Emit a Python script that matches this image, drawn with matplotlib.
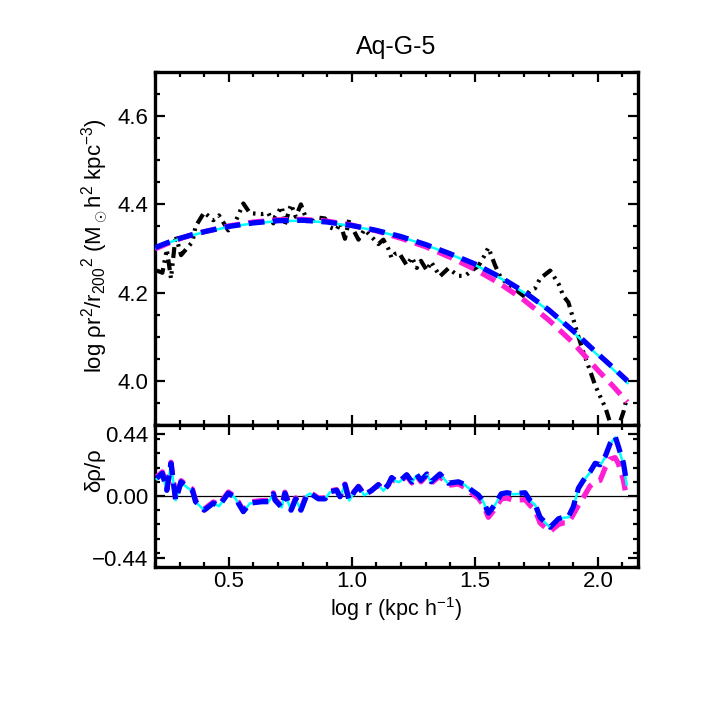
import matplotlib
matplotlib.use("Agg")
import matplotlib.pyplot as plt
from matplotlib.ticker import MultipleLocator, FixedLocator

plt.rcParams['font.family'] = ['Liberation Sans', 'DejaVu Sans']
plt.rcParams['mathtext.fontset'] = 'custom'
plt.rcParams['mathtext.rm'] = 'Liberation Sans'
plt.rcParams['mathtext.it'] = 'Liberation Sans:italic'
plt.rcParams['mathtext.bf'] = 'Liberation Sans:bold'
plt.rcParams['axes.unicode_minus'] = True

# ---------------- data ----------------
title = "Aq-G-5"

# smooth fits (top panel)
x_fit = [0.20, 0.25, 0.30, 0.35, 0.40, 0.50, 0.60, 0.70, 0.80, 0.90, 1.00, 1.10, 1.20,
         1.30, 1.40, 1.50, 1.60, 1.70, 1.80, 1.90, 2.00, 2.06, 2.12]
fit_blue = [4.302, 4.313, 4.323, 4.331, 4.338, 4.350, 4.358, 4.363, 4.364, 4.360, 4.352,
            4.341, 4.327, 4.309, 4.288, 4.265, 4.236, 4.202, 4.161, 4.113, 4.061, 4.031, 4.000]
fit_cyan = [4.301, 4.312, 4.322, 4.330, 4.337, 4.349, 4.357, 4.362, 4.363, 4.359, 4.351,
            4.340, 4.326, 4.308, 4.287, 4.263, 4.234, 4.200, 4.159, 4.110, 4.058, 4.027, 3.995]
fit_magenta = [4.299, 4.311, 4.322, 4.331, 4.338, 4.351, 4.360, 4.365, 4.366, 4.362, 4.353,
               4.340, 4.323, 4.304, 4.280, 4.253, 4.221, 4.183, 4.138, 4.086, 4.024, 3.989, 3.952]

# simulation profile and residuals
x_data = [0.207, 0.230, 0.248, 0.265, 0.284, 0.306, 0.329, 0.352, 0.365, 0.400,
          0.437, 0.460, 0.498, 0.525, 0.559, 0.586, 0.634, 0.661, 0.681, 0.688,
          0.715, 0.728, 0.753, 0.772, 0.793, 0.817, 0.830, 0.864, 0.891, 0.911,
          0.938, 0.952, 0.972, 0.989, 1.010, 1.027, 1.051, 1.081, 1.108, 1.128,
          1.148, 1.162, 1.176, 1.192, 1.223, 1.244, 1.264, 1.281, 1.305, 1.322,
          1.358, 1.392, 1.433, 1.460, 1.487, 1.514, 1.535, 1.555, 1.582, 1.607,
          1.630, 1.657, 1.704, 1.724, 1.745, 1.765, 1.806, 1.840, 1.860, 1.880,
          1.900, 1.921, 1.941, 1.968, 1.989, 2.009, 2.030, 2.050, 2.070, 2.083,
          2.104, 2.117]
rho_data = [4.250, 4.245, 4.298, 4.232, 4.330, 4.285, 4.300, 4.315, 4.350, 4.382,
            4.364, 4.375, 4.341, 4.358, 4.402, 4.380, 4.378, 4.380, 4.357, 4.372,
            4.395, 4.355, 4.400, 4.372, 4.400, 4.364, 4.357, 4.370, 4.368, 4.348,
            4.342, 4.358, 4.322, 4.365, 4.338, 4.320, 4.343, 4.326, 4.310, 4.320,
            4.300, 4.278, 4.288, 4.290, 4.262, 4.280, 4.256, 4.272, 4.250, 4.270,
            4.237, 4.255, 4.238, 4.238, 4.250, 4.260, 4.280, 4.302, 4.262, 4.232,
            4.222, 4.210, 4.190, 4.205, 4.210, 4.232, 4.250, 4.220, 4.192, 4.178,
            4.140, 4.100, 4.065, 4.023, 3.990, 3.965, 3.940, 3.905, 3.880, 3.895,
            3.930, 3.960]
res_blue = [0.125, 0.160, 0.040, 0.230, -0.030, 0.100, 0.066, 0.040, -0.040, -0.100,
            -0.050, -0.070, 0.020, -0.010, -0.110, -0.050, -0.040, -0.040, 0.015, -0.030,
            -0.080, 0.020, -0.100, -0.020, -0.100, 0.007, 0.020, -0.020, -0.020, 0.030,
            0.040, -0.005, 0.080, -0.030, 0.030, 0.066, 0.007, 0.040, 0.080, 0.040,
            0.080, 0.130, 0.110, 0.100, 0.150, 0.100, 0.150, 0.110, 0.155, 0.100,
            0.155, 0.090, 0.100, 0.080, 0.040, 0.007, -0.040, -0.120, -0.060, 0.015,
            0.023, 0.015, 0.023, -0.030, -0.060, -0.150, -0.220, -0.160, -0.150, -0.147,
            -0.076, 0.055, 0.110, 0.170, 0.230, 0.220, 0.280, 0.370, 0.420, 0.350,
            0.230, 0.090]
res_cyan = [0.120, 0.155, 0.035, 0.225, -0.030, 0.095, 0.062, 0.036, -0.042, -0.100,
            -0.052, -0.072, 0.017, -0.012, -0.110, -0.052, -0.042, -0.042, 0.012, -0.032,
            -0.080, 0.017, -0.100, -0.022, -0.100, 0.005, 0.017, -0.022, -0.022, 0.027,
            0.037, -0.007, 0.077, -0.032, 0.027, 0.062, 0.005, 0.037, 0.077, 0.037,
            0.077, 0.126, 0.106, 0.097, 0.146, 0.097, 0.146, 0.107, 0.151, 0.097,
            0.151, 0.087, 0.097, 0.077, 0.037, 0.004, -0.043, -0.123, -0.063, 0.012,
            0.020, 0.012, 0.020, -0.033, -0.063, -0.153, -0.223, -0.163, -0.153, -0.150,
            -0.080, 0.050, 0.105, 0.165, 0.225, 0.215, 0.275, 0.365, 0.412, 0.342,
            0.222, 0.080]
res_magenta = [0.135, 0.170, 0.048, 0.238, -0.022, 0.108, 0.074, 0.048, -0.032, -0.092,
               -0.042, -0.062, 0.028, -0.002, -0.102, -0.042, -0.032, -0.032, 0.022, -0.022,
               -0.072, 0.027, -0.093, -0.013, -0.093, 0.014, 0.026, -0.014, -0.014, 0.035,
               0.045, 0.000, 0.084, -0.026, 0.033, 0.068, 0.008, 0.040, 0.079, 0.038,
               0.077, 0.126, 0.105, 0.094, 0.143, 0.092, 0.141, 0.100, 0.145, 0.090,
               0.140, 0.075, 0.085, 0.060, 0.020, -0.015, -0.065, -0.150, -0.090, -0.020,
               -0.015, -0.030, -0.025, -0.065, -0.100, -0.190, -0.250, -0.200, -0.190, -0.190,
               -0.130, -0.065, -0.010, 0.070, 0.100, 0.110, 0.200, 0.260, 0.270, 0.230,
               0.110, -0.020]

x_ticks = [0.5, 1.0, 1.5, 2.0]
y_ticks_top = [4.0, 4.2, 4.4, 4.6]
y_ticks_bot = [-0.44, 0.0, 0.44]

# ---------------- figure ----------------
W = 709.0
fig = plt.figure(figsize=(7.09, 7.09), dpi=100)
L, R = 155 / W, 638 / W
ax1 = fig.add_axes([L, 1 - 425 / W, R - L, (425 - 72) / W])
ax2 = fig.add_axes([L, 1 - 567 / W, R - L, (567 - 425) / W], sharex=ax1)

dash_black = (0, (2.6, 1.3, 0.6, 1.3, 0.6, 1.3, 0.6, 1.3))
dash_thick = (0, (3.0, 1.6))

# top panel
ax1.plot(x_data, rho_data, color='black', lw=3.0, linestyle=dash_black, zorder=2)
ax1.plot(x_fit, fit_magenta, color='#ff1fd2', lw=3.8, linestyle=dash_thick, zorder=3)
ax1.plot(x_fit, fit_cyan, color='#00ffff', lw=1.8, linestyle='-', zorder=4)
ax1.plot(x_fit, fit_blue, color='#0000ff', lw=3.8, linestyle=dash_thick, zorder=5)

# bottom panel
ax2.axhline(0.0, color='black', lw=0.9, zorder=1)
ax2.plot(x_data, res_magenta, color='#ff1fd2', lw=3.8, linestyle=dash_thick, zorder=3)
ax2.plot(x_data, res_cyan, color='#00ffff', lw=1.8, linestyle='-', zorder=4)
ax2.plot(x_data, res_blue, color='#0000ff', lw=3.8, linestyle=dash_thick, zorder=5)

ax1.set_xlim(0.2, 2.163)
ax1.set_ylim(3.9, 4.7)
ax2.set_ylim(-0.5, 0.5)

ax1.yaxis.set_major_locator(FixedLocator(y_ticks_top))
ax1.yaxis.set_minor_locator(MultipleLocator(0.05))
ax1.xaxis.set_major_locator(FixedLocator(x_ticks))
ax1.xaxis.set_minor_locator(MultipleLocator(0.1))
ax2.yaxis.set_major_locator(FixedLocator(y_ticks_bot))
ax2.yaxis.set_minor_locator(MultipleLocator(0.1))
ax1.set_yticklabels([f"{v:.1f}" for v in y_ticks_top])
ax2.set_yticklabels([f"{v:.2f}".replace('-', '\u2212') for v in y_ticks_bot])
ax2.set_xticks(x_ticks)
ax2.set_xticklabels([f"{v:.1f}" for v in x_ticks])
plt.setp(ax1.get_xticklabels(), visible=False)

for ax in (ax1, ax2):
    for s in ax.spines.values():
        s.set_linewidth(2.4)
    ax.tick_params(which='both', direction='in', top=True, right=True,
                   labelsize=16, pad=5)
    ax.tick_params(which='major', length=7, width=1.6)
    ax.tick_params(which='minor', length=3.8, width=1.6)
ax2.tick_params(axis='x', pad=3)

fig.text((155 + 638) / 2 / W, 1 - 47 / W, title, ha='center', va='center', fontsize=18)
fig.text((155 + 638) / 2 / W, 1 - 609 / W, "log r (kpc h$^{\u22121}$)", ha='center',
         va='center', fontsize=15.5)
fig.text(95 / W, 1 - 246 / W,
         "log \u03c1r$^2$/r$_{200}$$^2$ (M$_\\odot$h$^2$ kpc$^{-3}$)",
         rotation=90, ha='center', va='center', fontsize=16)
fig.text(95 / W, 1 - 470 / W, "\u03b4\u03c1/\u03c1", rotation=90, ha='center',
         va='center', fontsize=16)

fig.savefig("out.png", dpi=100)
